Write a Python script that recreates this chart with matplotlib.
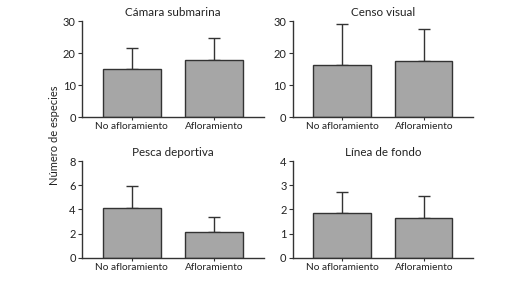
import matplotlib
matplotlib.use("Agg")
import matplotlib.pyplot as plt

categories = ["No afloramiento", "Afloramiento"]
titles = ["Cámara submarina", "Censo visual", "Pesca deportiva", "Línea de fondo"]
means = [[15.0, 17.9], [16.3, 17.6], [4.1, 2.1], [1.85, 1.65]]
errors = [[6.6, 6.9], [12.9, 10.0], [1.85, 1.25], [0.88, 0.92]]
ymax = [30, 30, 8, 4]
yticks = [[0, 10, 20, 30], [0, 10, 20, 30], [0, 2, 4, 6, 8], [0, 1, 2, 3, 4]]
ylabel = "Número de especies"

plt.rcParams['font.family'] = ['Lato', 'DejaVu Sans']
fig = plt.figure(figsize=(5.28, 2.81), dpi=100)
fig.patch.set_facecolor("white")

positions = [
    [0.1553, 0.5836, 0.5 - 0.1553, 0.924 - 0.5836],
    [0.5544, 0.5836, 0.8958 - 0.5544, 0.924 - 0.5836],
    [0.1553, 0.0829, 0.5 - 0.1553, 0.426 - 0.0829],
    [0.5544, 0.0829, 0.8958 - 0.5544, 0.426 - 0.0829],
]
txt = "#222222"
for i in range(4):
    ax = fig.add_axes(positions[i])
    x = [0, 1]
    ax.bar(x, means[i], width=0.7, color="#a6a6a6", edgecolor="#333333", linewidth=1.0, zorder=2)
    ax.errorbar(x, means[i], yerr=[[0, 0], errors[i]], fmt="none", ecolor="#333333",
                elinewidth=1.0, capsize=4, capthick=1.0, zorder=1)
    ax.set_xlim(-0.6, 1.6)
    ax.set_ylim(0, ymax[i])
    ax.set_yticks(yticks[i])
    ax.set_xticks(x)
    ax.set_xticklabels(categories)
    for s in ["top", "right"]:
        ax.spines[s].set_visible(False)
    for s in ["left", "bottom"]:
        ax.spines[s].set_color("#333333")
        ax.spines[s].set_linewidth(1.0)
    ax.tick_params(axis="both", colors="#333333", labelcolor=txt, labelsize=8,
                   length=3, width=0.8, pad=1.5)
    ax.tick_params(axis="x", labelsize=7.3, length=2, pad=1.5)
    ax.set_title(titles[i], fontsize=8.4, color=txt, pad=4)

fig.text(0.104, 0.52, ylabel, rotation=90, ha="center", va="center", fontsize=8, color=txt)
fig.savefig("out.png", dpi=100, facecolor="white")
